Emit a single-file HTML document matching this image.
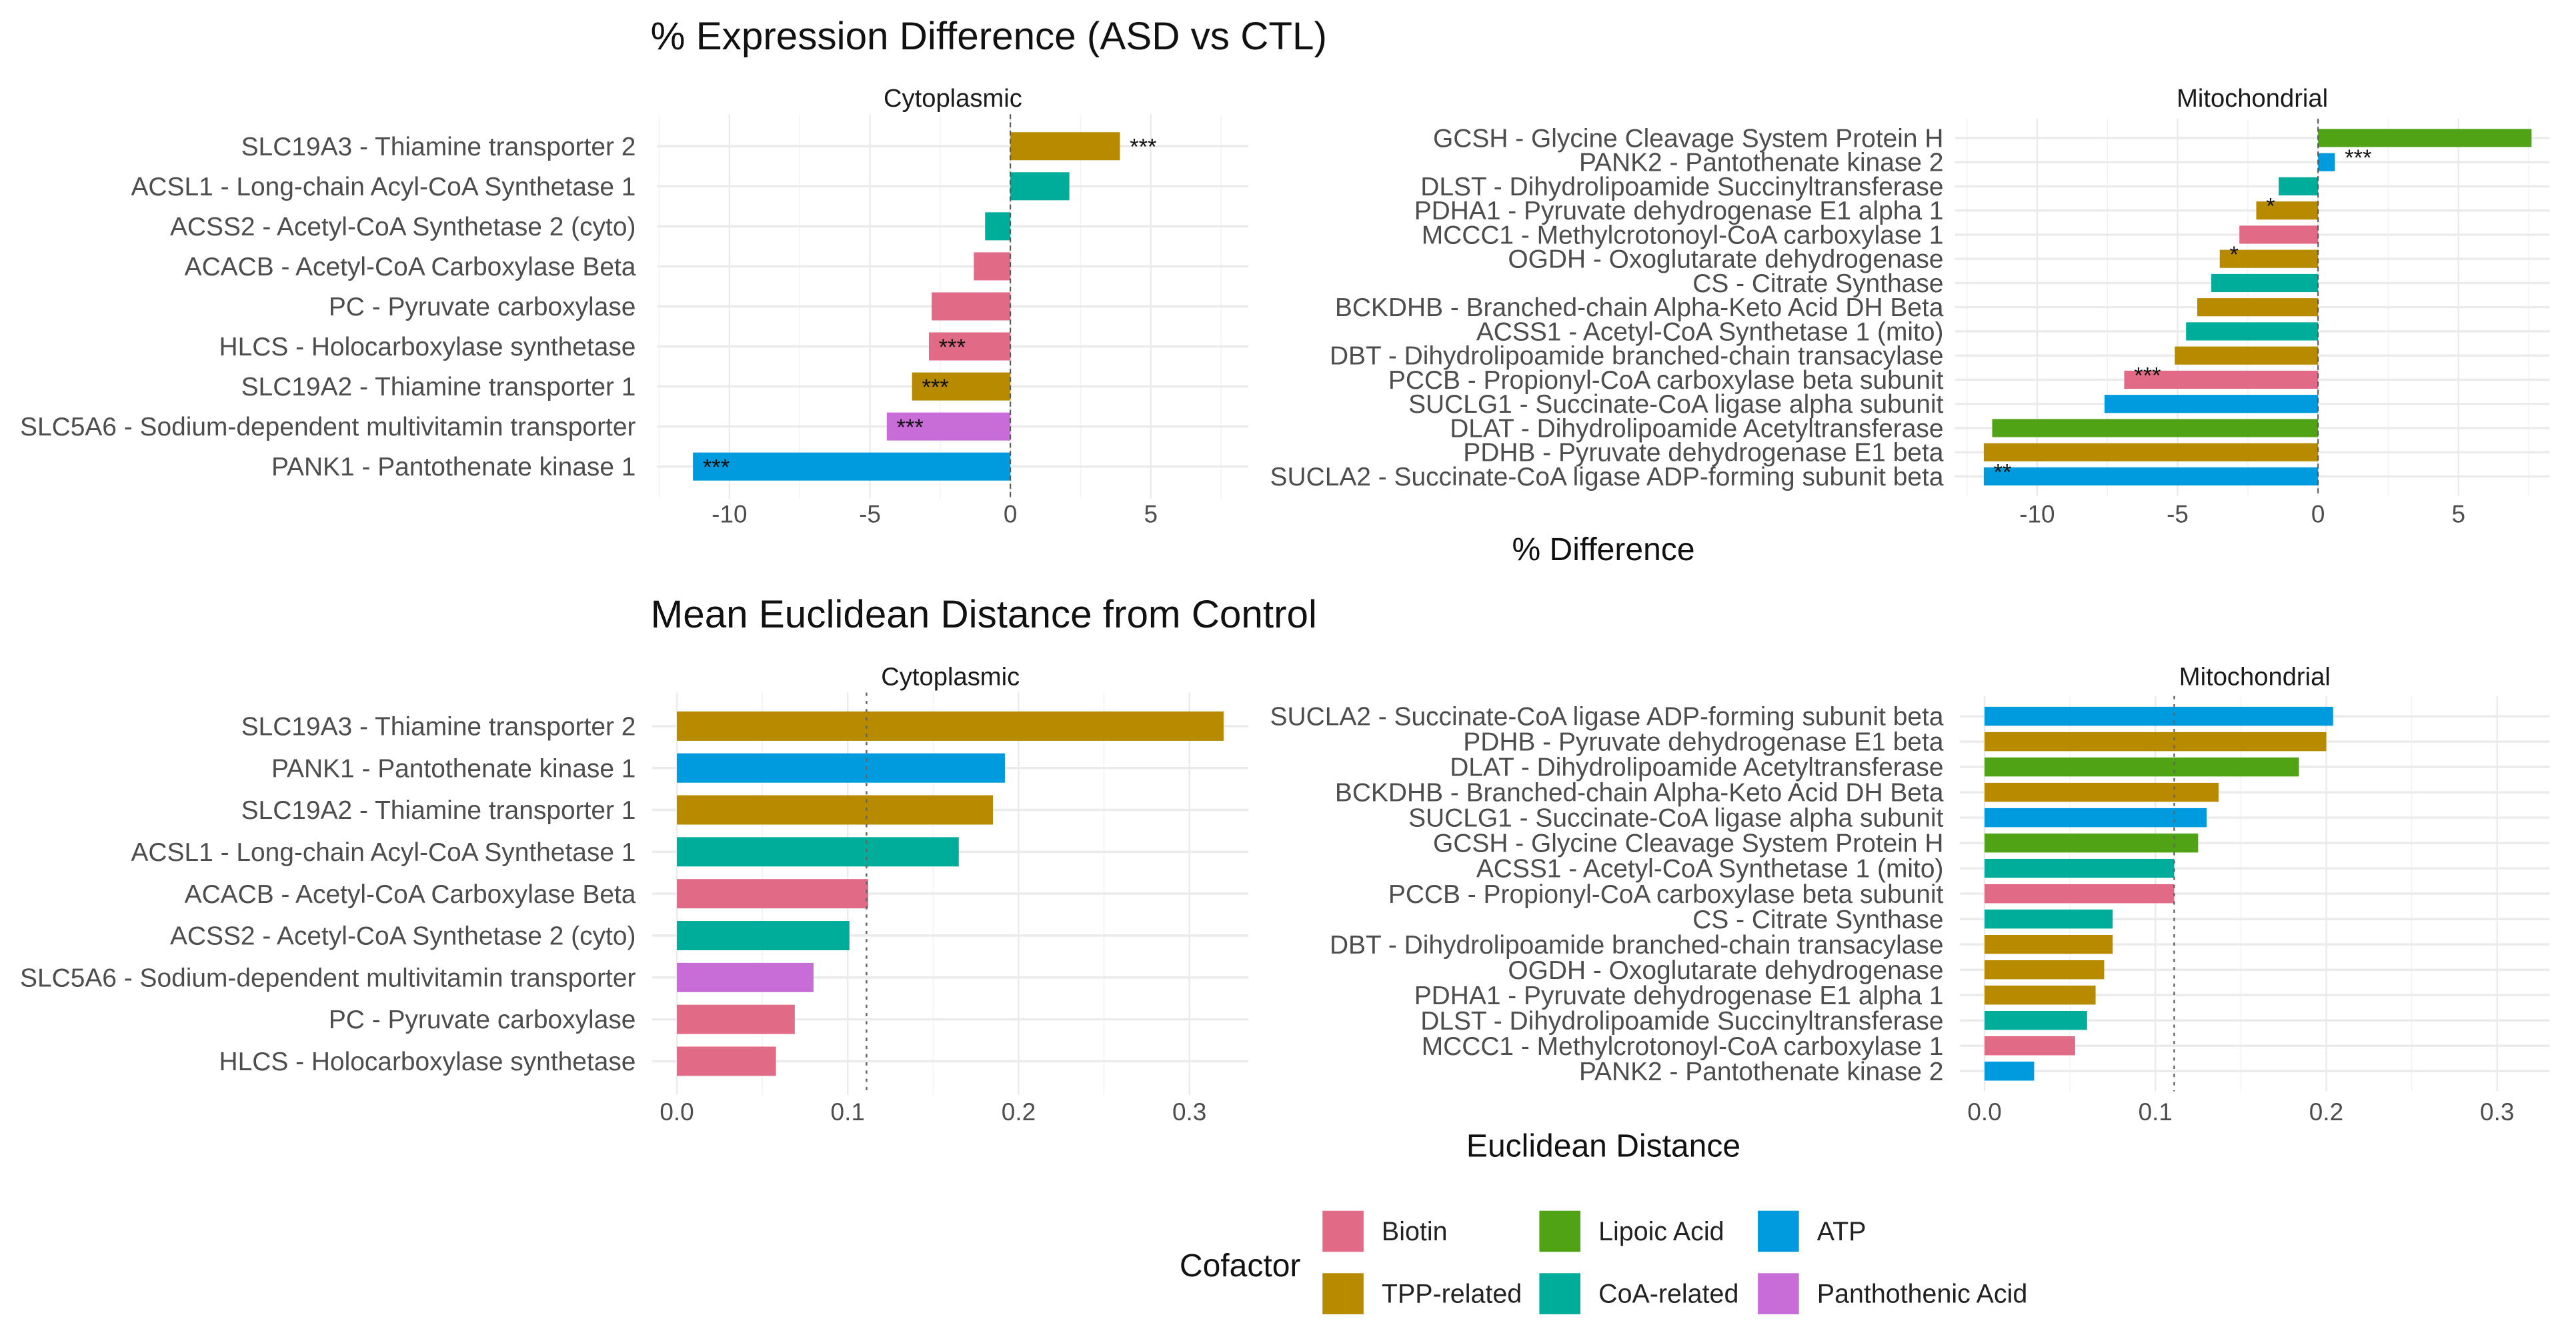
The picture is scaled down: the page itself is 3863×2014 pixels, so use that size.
<!DOCTYPE html>
<html><head><meta charset="utf-8"><style>
html,body{margin:0;padding:0;background:#fff}
svg{display:block}
text{font-family:"Liberation Sans",sans-serif}
</style></head><body>
<svg id="chart" width="3863" height="2014" viewBox="0 0 1568 817.5" xmlns="http://www.w3.org/2000/svg">
<text x="396" y="30" font-size="23.7" fill="#111">% Expression Difference (ASD vs CTL)</text>
<text x="396" y="382" font-size="23.7" fill="#111">Mean Euclidean Distance from Control</text>
<text x="976" y="341" font-size="19.5" fill="#111" text-anchor="middle">% Difference</text>
<text x="976" y="704" font-size="19.5" fill="#111" text-anchor="middle">Euclidean Distance</text>
<g id="legend"></g>
</svg>
<script>
const colors = {Biotin:"#E16A86","TPP-related":"#B88A00","Lipoic Acid":"#50A315","CoA-related":"#00AD9A",ATP:"#009ADE","Panthothenic Acid":"#C86DD7"};
// Panel 1: cytoplasmic % difference
const cytoDiffLabels = ["SLC19A3 - Thiamine transporter 2","ACSL1 - Long-chain Acyl-CoA Synthetase 1","ACSS2 - Acetyl-CoA Synthetase 2 (cyto)","ACACB - Acetyl-CoA Carboxylase Beta","PC - Pyruvate carboxylase","HLCS - Holocarboxylase synthetase","SLC19A2 - Thiamine transporter 1","SLC5A6 - Sodium-dependent multivitamin transporter","PANK1 - Pantothenate kinase 1"];
const cytoDiffValues = [3.9,2.1,-0.9,-1.3,-2.8,-2.9,-3.5,-4.4,-11.3];
const cytoDiffCof = ["TPP-related","CoA-related","CoA-related","Biotin","Biotin","Biotin","TPP-related","Panthothenic Acid","ATP"];
const cytoDiffSig = ["***","","","","","***","***","***","***"];
// Panel 2: mitochondrial % difference
const mitoDiffLabels = ["GCSH - Glycine Cleavage System Protein H","PANK2 - Pantothenate kinase 2","DLST - Dihydrolipoamide Succinyltransferase","PDHA1 - Pyruvate dehydrogenase E1 alpha 1","MCCC1 - Methylcrotonoyl-CoA carboxylase 1","OGDH - Oxoglutarate dehydrogenase","CS - Citrate Synthase","BCKDHB - Branched-chain Alpha-Keto Acid DH Beta","ACSS1 - Acetyl-CoA Synthetase 1 (mito)","DBT - Dihydrolipoamide branched-chain transacylase","PCCB - Propionyl-CoA carboxylase beta subunit","SUCLG1 - Succinate-CoA ligase alpha subunit","DLAT - Dihydrolipoamide Acetyltransferase","PDHB - Pyruvate dehydrogenase E1 beta","SUCLA2 - Succinate-CoA ligase ADP-forming subunit beta"];
const mitoDiffValues = [7.6,0.6,-1.4,-2.2,-2.8,-3.5,-3.8,-4.3,-4.7,-5.1,-6.9,-7.6,-11.6,-11.9,-11.9];
const mitoDiffCof = ["Lipoic Acid","ATP","CoA-related","TPP-related","Biotin","TPP-related","CoA-related","TPP-related","CoA-related","TPP-related","Biotin","ATP","Lipoic Acid","TPP-related","ATP"];
const mitoDiffSig = ["","***","","*","","*","","","","","***","","","","**"];
// Panel 3: cytoplasmic distance
const cytoDistLabels = ["SLC19A3 - Thiamine transporter 2","PANK1 - Pantothenate kinase 1","SLC19A2 - Thiamine transporter 1","ACSL1 - Long-chain Acyl-CoA Synthetase 1","ACACB - Acetyl-CoA Carboxylase Beta","ACSS2 - Acetyl-CoA Synthetase 2 (cyto)","SLC5A6 - Sodium-dependent multivitamin transporter","PC - Pyruvate carboxylase","HLCS - Holocarboxylase synthetase"];
const cytoDistValues = [0.32,0.192,0.185,0.165,0.112,0.101,0.08,0.069,0.058];
const cytoDistCof = ["TPP-related","ATP","TPP-related","CoA-related","Biotin","CoA-related","Panthothenic Acid","Biotin","Biotin"];
// Panel 4: mitochondrial distance
const mitoDistLabels = ["SUCLA2 - Succinate-CoA ligase ADP-forming subunit beta","PDHB - Pyruvate dehydrogenase E1 beta","DLAT - Dihydrolipoamide Acetyltransferase","BCKDHB - Branched-chain Alpha-Keto Acid DH Beta","SUCLG1 - Succinate-CoA ligase alpha subunit","GCSH - Glycine Cleavage System Protein H","ACSS1 - Acetyl-CoA Synthetase 1 (mito)","PCCB - Propionyl-CoA carboxylase beta subunit","CS - Citrate Synthase","DBT - Dihydrolipoamide branched-chain transacylase","OGDH - Oxoglutarate dehydrogenase","PDHA1 - Pyruvate dehydrogenase E1 alpha 1","DLST - Dihydrolipoamide Succinyltransferase","MCCC1 - Methylcrotonoyl-CoA carboxylase 1","PANK2 - Pantothenate kinase 2"];
const mitoDistValues = [0.204,0.2,0.184,0.137,0.13,0.125,0.111,0.111,0.075,0.075,0.07,0.065,0.06,0.053,0.029];
const mitoDistCof = ["ATP","TPP-related","Lipoic Acid","TPP-related","ATP","Lipoic Acid","CoA-related","Biotin","CoA-related","TPP-related","TPP-related","TPP-related","CoA-related","Biotin","ATP"];
const diffTicks = [-10,-5,0,5];
const distTicks = [0,0.1,0.2,0.3];
const distTickLabels = ["0.0","0.1","0.2","0.3"];
const threshold = 0.111;

const svg = document.getElementById('chart');
const NS = "http://www.w3.org/2000/svg";
function mk(tag, attrs, parent){const e=document.createElementNS(NS,tag);for(const k in attrs)e.setAttribute(k,attrs[k]);(parent||svg).appendChild(e);return e;}

function panel(o){
  const g = mk('g',{});
  
  
  const sx = v => o.x0 + (v - o.zero) * o.ppu;
  const n = o.labels.length;
  const sy = i => o.yTop + i * (o.yBot - o.yTop) / (n - 1);
  const step = (o.yBot - o.yTop) / (n - 1);
  const top = o.yTop - step*0.8, bot = o.yBot + step*0.8;
  for (let i=0;i<o.ticks.length-1;i++){
    const m=(o.ticks[i]+o.ticks[i+1])/2; const x=sx(m);
    mk('line',{x1:x,x2:x,y1:top,y2:bot,stroke:"#f2f2f2","stroke-width":0.6},g);
  }
  const mlo = o.ticks[0]-(o.ticks[1]-o.ticks[0])/2;
  if (sx(mlo) > o.left) mk('line',{x1:sx(mlo),x2:sx(mlo),y1:top,y2:bot,stroke:"#f2f2f2","stroke-width":0.6},g);
  const mhi = o.ticks[o.ticks.length-1]+(o.ticks[1]-o.ticks[0])/2;
  if (sx(mhi) < o.right) mk('line',{x1:sx(mhi),x2:sx(mhi),y1:top,y2:bot,stroke:"#f2f2f2","stroke-width":0.6},g);
  o.ticks.forEach((t,i)=>{
    const x=sx(t);
    mk('line',{x1:x,x2:x,y1:top,y2:bot,stroke:"#ebebeb","stroke-width":1},g);
    const tl = mk('text',{x:x,y:o.tickY,"font-size":15,fill:"#4d4d4d","text-anchor":"middle"},g);
    tl.textContent = o.tickLabels ? o.tickLabels[i] : String(t);
    
    
  });
  o.labels.forEach((lab,i)=>{
    const y=sy(i);
    mk('line',{x1:o.left,x2:o.right,y1:y,y2:y,stroke:"#ebebeb","stroke-width":1.4},g);
    const t = mk('text',{x:o.labelX,y:y+5.5,"font-size":15.8,fill:"#4d4d4d","text-anchor":"end"},g);
    t.textContent = lab;
    
    
  });
  const bh = step*o.bw;
  o.values.forEach((v,i)=>{
    const x1 = sx(Math.min(0,v)), x2 = sx(Math.max(0,v));
    const r = mk('rect',{x:x1,y:sy(i)-bh/2,width:x2-x1,height:bh,fill:colors[o.cof[i]]},g);
    
    
    if (o.sig && o.sig[i]) {
      const sxp = v >= 0 ? x2 + 6 : x1 + 6;
      const s = mk('text',{x:sxp,y:sy(i)+ (o.sigDy||5),"font-size":14,fill:"#111"},g);
      s.textContent = o.sig[i];
      
      
    }
  });
  if (o.zeroLine) mk('line',{x1:sx(0),x2:sx(0),y1:top,y2:bot,stroke:"#555","stroke-width":0.8,"stroke-dasharray":"3,2"},g);
  if (o.thr !== undefined) mk('line',{x1:sx(o.thr),x2:sx(o.thr),y1:top,y2:bot,stroke:"#666","stroke-width":1,"stroke-dasharray":"2,3"},g);
  const st = mk('text',{x:(o.left+o.right)/2,y:o.stripY,"font-size":15.5,fill:"#1a1a1a","text-anchor":"middle"},g);
  st.textContent = o.strip;
  
  
}

panel({name:"cyto-diff-panel",labels:cytoDiffLabels,values:cytoDiffValues,cof:cytoDiffCof,sig:cytoDiffSig,ticks:diffTicks,
  x0:615,zero:0,ppu:17.1,left:400,right:760,yTop:89,yBot:284,labelX:387,tickY:318,stripY:65,strip:"Cytoplasmic",bw:0.7,zeroLine:true});
panel({name:"mito-diff-panel",labels:mitoDiffLabels,values:mitoDiffValues,cof:mitoDiffCof,sig:mitoDiffSig,ticks:diffTicks,
  x0:1411,zero:0,ppu:17.1,left:1190,right:1552,yTop:84,yBot:290,labelX:1183,tickY:318,stripY:65,strip:"Mitochondrial",bw:0.75,zeroLine:true,sigDy:2});
panel({name:"cyto-dist-panel",labels:cytoDistLabels,values:cytoDistValues,cof:cytoDistCof,ticks:distTicks,tickLabels:distTickLabels,
  x0:412,zero:0,ppu:1040,left:397,right:760,yTop:442,yBot:646,labelX:387,tickY:682,stripY:417,strip:"Cytoplasmic",bw:0.7,thr:threshold});
panel({name:"mito-dist-panel",labels:mitoDistLabels,values:mitoDistValues,cof:mitoDistCof,ticks:distTicks,tickLabels:distTickLabels,
  x0:1208,zero:0,ppu:1040,left:1193,right:1552,yTop:436,yBot:652,labelX:1183,tickY:682,stripY:417,strip:"Mitochondrial",bw:0.75,thr:threshold});

const lg = document.getElementById('legend');
const lt = mk('text',{x:718,y:777,"font-size":19.5,fill:"#111"},lg);
lt.textContent = "Cofactor";


const legendItems = [["Biotin",805,737],["Lipoic Acid",937,737],["ATP",1070,737],["TPP-related",805,775],["CoA-related",937,775],["Panthothenic Acid",1070,775]];
legendItems.forEach(([k,x,y])=>{
  const r = mk('rect',{x:x,y:y,width:25,height:25,fill:colors[k]},lg);
  
  
  const t = mk('text',{x:x+36,y:y+18,"font-size":16,fill:"#222"},lg);
  t.textContent = k;
  
  
});
</script>
</body></html>
